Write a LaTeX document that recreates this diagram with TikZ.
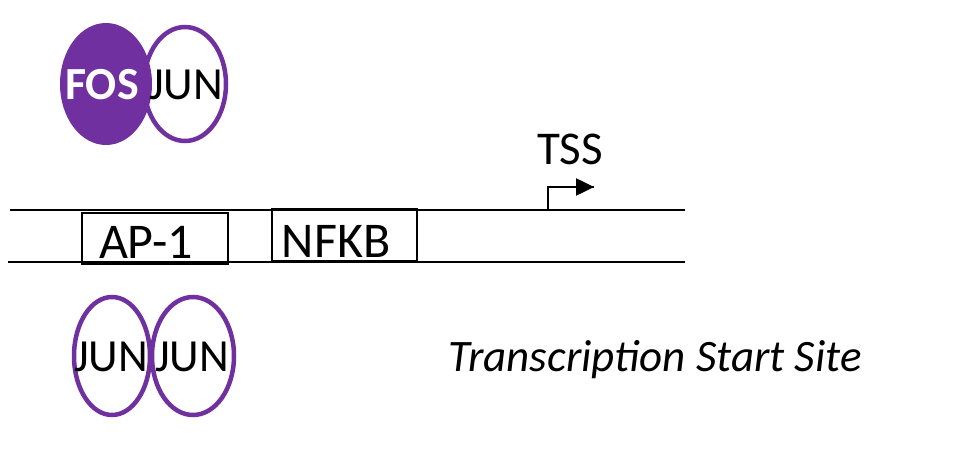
\documentclass[tikz,border=0pt]{standalone}
\usepackage{fontspec}
\setmainfont{Carlito}
\usetikzlibrary{shapes.geometric,arrows.meta}
\definecolor{tfpurple}{HTML}{7030A0}
\tikzset{
  dnaline/.style={line width=2pt,black},
  sitebox/.style={draw=black,line width=2pt,inner sep=0pt},
  sitetext/.style={font=\fontsize{50}{50}\selectfont,inner sep=0pt},
  protring/.style={ellipse,draw=tfpurple,line width=4.5pt,inner sep=0pt},
  protfill/.style={ellipse,fill=tfpurple,inner sep=0pt},
  protlbl/.style={font=\fontsize{46}{46}\selectfont,inner sep=0pt},
}
\begin{document}
\begin{tikzpicture}[x=1pt,y=-1pt]
\useasboundingbox (0,0) rectangle (960,452);
% DNA lines
\coordinate (t0) at (10,210);
\coordinate (t1) at (685,210);
\coordinate (b0) at (8,262);
\coordinate (b1) at (685,262);
\draw[dnaline] (t0) -- (t1);
\draw[dnaline] (b0) -- (b1);
% boxes
\node[sitebox,minimum width=146pt,minimum height=51pt] (ap1) at (154.5,238.5) {};
\node[sitetext] at (146,242) {AP-1};
\node[sitebox,minimum width=145pt,minimum height=52pt] (nfkb) at (344.5,235) {};
\node[sitetext] at (336,241) {NFKB};
% TSS
\coordinate (ts0) at (503,210);
\coordinate (ts1) at (548,210);
\coordinate (ts2) at (548,187);
\coordinate (ts3) at (594,187);
\draw[line width=2.5pt] (ts0) -- (ts1) -- (ts2) -- (ts3);
\draw[-{Triangle[length=18pt,width=17pt]},line width=2.5pt] (ts2) -- (ts3);
\node[sitetext,font=\fontsize{47}{47}\selectfont] (tss) at (570,149) {TSS};
% top dimer
\node[protfill,minimum width=92pt,minimum height=122pt] (fos) at (106,84) {};
\node[protring,minimum width=82pt,minimum height=114pt] (jtop) at (185,84) {};
\node[protlbl,text=white,font=\fontsize{46}{46}\selectfont\bfseries] at (102,85) {FOS};
\node[protlbl] at (186,85) {JUN};
% bottom dimer
\node[protring,minimum width=76pt,minimum height=118pt] (jb1) at (112,356) {};
\node[protring,minimum width=82pt,minimum height=118pt] (jb2) at (193,356) {};
\node[protlbl] at (111,357) {JUN};
\node[protlbl] at (192,357) {JUN};
% caption
\node[font=\fontsize{45}{45}\selectfont\itshape,inner sep=0pt] (cap) at (655,360) {Transcription Start Site};
\end{tikzpicture}
\end{document}
